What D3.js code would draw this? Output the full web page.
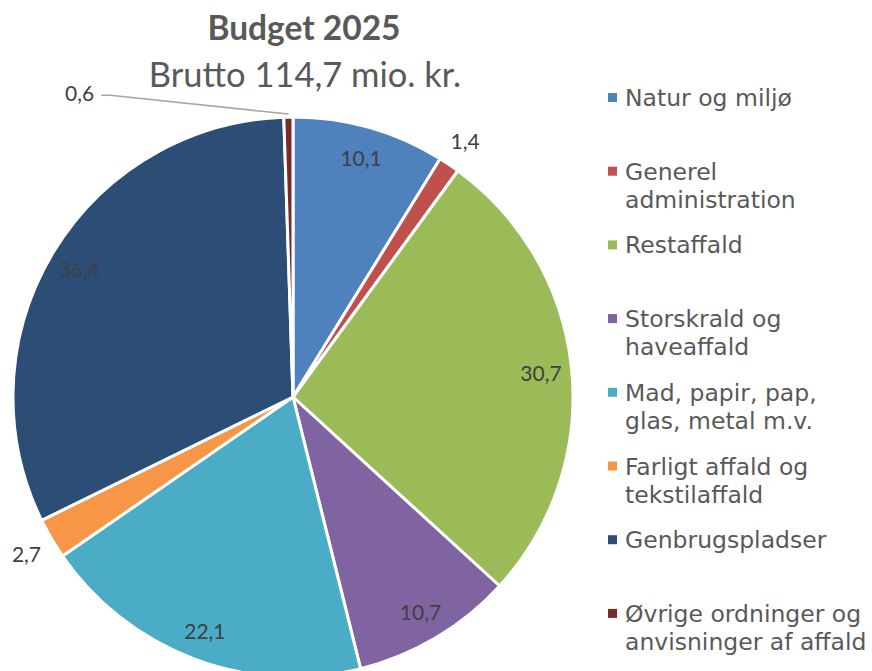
<!DOCTYPE html>
<meta charset="utf-8" />
<script src="https://d3js.org/d3.v7.min.js"></script>
<style>
  body { margin: 0; background: #fff; }
</style>
<div id="chart"></div>
<script>
  // Data (mio. kr.)
  const categories = [
    "Natur og miljø",
    "Generel\nadministration",
    "Restaffald",
    "Storskrald og\nhaveaffald",
    "Mad, papir, pap,\nglas, metal m.v.",
    "Farligt affald og\ntekstilaffald",
    "Genbrugspladser",
    "Øvrige ordninger og\nanvisninger af affald",
  ];
  const values = [10.1, 1.4, 30.7, 10.7, 22.1, 2.7, 36.4, 0.6];
  const colors = ["#4f81bd", "#c0504d", "#9bbb59", "#8064a2", "#4bacc6", "#f79646", "#2c4d75", "#772c2a"];
  // how each data label is placed: inside, outside, or pulled away with a leader line
  const labelModes = ["in", "out", "in", "in", "in", "out", "in", "leader"];
  const title = "Budget 2025";
  const subtitle = "Brutto 114,7 mio. kr.";

  const width = 872, height = 671;
  const radius = 280;
  const cx = 293, cy = 397;

  const fmt = (v) => d3.format(".1f")(v).replace(".", ",");

  const svg = d3
    .select("#chart")
    .append("svg")
    .attr("width", width)
    .attr("height", height)
    .style("font-family", "Lato, 'Open Sans', sans-serif");

  // Titles
  svg
    .append("text")
    .attr("x", 304)
    .attr("y", 40)
    .attr("text-anchor", "middle")
    .style("font-size", "33.5px")
    .style("font-weight", "bold")
    .attr("fill", "#595959")
    .text(title);

  svg
    .append("text")
    .attr("x", 305)
    .attr("y", 87)
    .attr("text-anchor", "middle")
    .style("font-size", "34.5px")
    .attr("fill", "#595959")
    .text(subtitle);

  // Pie
  const pie = d3.pie().sort(null).value((d) => d)(values);
  const arc = d3.arc().innerRadius(0).outerRadius(radius);

  const g = svg.append("g").attr("transform", `translate(${cx}, ${cy})`);

  g.selectAll("path")
    .data(pie)
    .join("path")
    .attr("d", arc)
    .attr("fill", (d, i) => colors[i])
    .attr("stroke", "#fff")
    .attr("stroke-width", 3)
    .attr("stroke-linejoin", "round");

  const mid = (d) => (d.startAngle + d.endAngle) / 2;

  // Data labels
  const labels = g
    .selectAll("text.label")
    .data(pie)
    .join("text")
    .attr("class", "label")
    .attr("text-anchor", "middle")
    .attr("dominant-baseline", "central")
    .style("font-size", "21px")
    .attr("fill", "#404040")
    .text((d) => fmt(d.data));

  labels.each(function (d, i) {
    const a = mid(d);
    const s = Math.sin(a), c = -Math.cos(a);
    let r;
    if (labelModes[i] === "in") {
      r = radius * 0.89;
    } else if (labelModes[i] === "out") {
      const bb = this.getBBox();
      r = radius + 10 + Math.abs(s) * bb.width / 2 + Math.abs(c) * bb.height / 2;
    } else {
      // label dragged up and to the left, joined by a leader line
      const la = (-35 * Math.PI) / 180, lr = radius + 92;
      const lx = lr * Math.sin(la), ly = -lr * Math.cos(la);
      d3.select(this).attr("x", lx).attr("y", ly);
      const bb = this.getBBox();
      const ex = radius * Math.sin(a), ey = -radius * Math.cos(a) - 3;
      g.insert("polyline", "text")
        .attr("points", [
          [lx + bb.width / 2 + 7, ly + 3],
          [lx + bb.width / 2 + 16, ly + 3],
          [ex, ey],
        ].map((p) => p.join(",")).join(" "))
        .attr("fill", "none")
        .attr("stroke", "#a6a6a6")
        .attr("stroke-width", 1.5);
      return;
    }
    d3.select(this).attr("x", r * s).attr("y", r * c);
  });

  // Legend
  const legend = svg
    .append("g")
    .attr("transform", "translate(608, 106)")
    .style("font-family", "'DejaVu Sans', Verdana, sans-serif")
    .style("font-size", "23.5px")
    .attr("fill", "#595959");

  const item = legend
    .selectAll("g")
    .data(categories)
    .join("g")
    .attr("transform", (d, i) => `translate(0, ${i * 73.7})`);

  item
    .append("rect")
    .attr("x", 0)
    .attr("y", -13)
    .attr("width", 9)
    .attr("height", 9)
    .attr("fill", (d, i) => colors[i]);

  item
    .append("text")
    .attr("x", 17)
    .selectAll("tspan")
    .data((d) => d.split("\n"))
    .join("tspan")
    .attr("x", 17)
    .attr("dy", (d, i) => (i === 0 ? 0 : 28))
    .text((d) => d);
</script>
